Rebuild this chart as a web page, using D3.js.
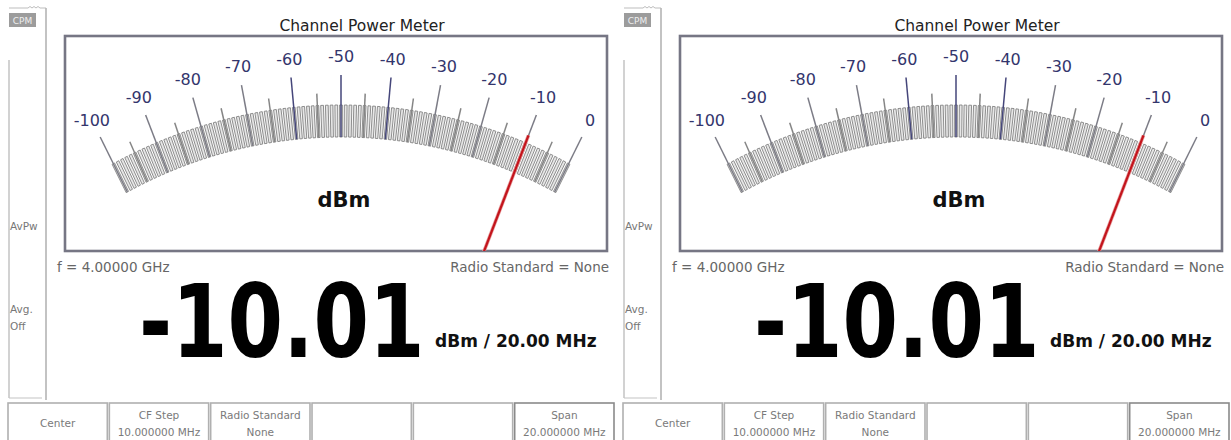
<!DOCTYPE html>
<html>
<head>
<meta charset="utf-8">
<script src="https://cdn.jsdelivr.net/npm/d3@7"></script>
<style>
body{margin:0;background:#fff;}
svg{display:block;}
</style>
</head>
<body>
<div id="cpm"></div>
<script>
// values
const scaleValues = [-100,-90,-80,-70,-60,-50,-40,-30,-20,-10,0];
const scaleLabels = ["-100","-90","-80","-70","-60","-50","-40","-30","-20","-10","0"];
const readingDbm = -10.01;
const readingText = "-10.01";
const unitText = "dBm / 20.00 MHz";
const meterUnit = "dBm";
const titleText = "Channel Power Meter";
const freqText = "f = 4.00000 GHz";
const standardText = "Radio Standard = None";
const sideTexts = ["AvPw", "Avg.", "Off"];
const modeText = "CPM";
const softKeys = [["Center"], ["CF Step","10.000000 MHz"], ["Radio Standard","None"], [], [], ["Span","20.000000 MHz"]];
const panelOffsets = [0, 615];

function chartConfiguration(){
    let width = 1231;
    let height = 440;
    let svg = d3.select("#cpm")
                .append("svg")
                .attr("width", width)
                .attr("height", height);
    // meter geometry (pivot is below the box, scale is a slightly squashed arc)
    let meter = { cx: 341, cy: 624, sx: 0.95, rIn: 487, rMinor: 519, rMid: 531, rMajor: 549, rLabel: 568 };
    let box = { x: 65, y: 36, w: 542, h: 215 };
    return { width, height, svg, meter, box };
}

function chartScales(){
    let angle = d3.scaleLinear()
                .domain([d3.min(scaleValues), d3.max(scaleValues)])
                .range([-27.5, 27.5]);
    return { angle };
}

function point(v, r, scales, m){
    let a = scales.angle(v) * Math.PI / 180;
    return [m.cx + m.sx * r * Math.sin(a), m.cy - r * Math.cos(a)];
}

function drawPanel(g, idx, scales, config){
    let { meter, box } = config;
    let clipId = "meterclip" + idx;

    // left side strip
    g.append("path")
        .attr("d", "M9,8 L28,8 q2,-3 4,0 q2,-3 4,0 q2,-3 4,0 L46,8")
        .attr("fill", "none").attr("stroke", "#bdbdbd").attr("stroke-width", 1);
    g.append("rect")
        .attr("x", 9).attr("y", 13).attr("width", 27).attr("height", 14)
        .attr("fill", "#9c9c9c");
    g.append("text")
        .attr("x", 22.5).attr("y", 24).attr("text-anchor", "middle")
        .style("font-family", "DejaVu Sans").style("font-size", "9px")
        .attr("fill", "#eeeeee").text(modeText);
    g.append("line").attr("x1", 9).attr("x2", 9).attr("y1", 60).attr("y2", 398)
        .attr("stroke", "#b4b4b4").attr("stroke-width", 1.2);
    g.append("line").attr("x1", 46).attr("x2", 46).attr("y1", 8).attr("y2", 400)
        .attr("stroke", "#b4b4b4").attr("stroke-width", 1.6);
    g.append("line").attr("x1", 9).attr("x2", 42).attr("y1", 398).attr("y2", 398)
        .attr("stroke", "#c4c4c4").attr("stroke-width", 1.2);
    g.selectAll("sidetext")
        .data(sideTexts)
        .enter()
        .append("text")
        .attr("x", 10)
        .attr("y", (d, i) => [230, 313, 330][i])
        .style("font-family", "DejaVu Sans").style("font-size", "10.5px")
        .attr("fill", "#777")
        .text(d => d);

    // title
    g.append("text")
        .attr("x", 362).attr("y", 31).attr("text-anchor", "middle")
        .style("font-family", "DejaVu Sans").style("font-size", "15.5px")
        .attr("fill", "#222").text(titleText);

    // meter box
    g.append("clipPath").attr("id", clipId)
        .append("rect")
        .attr("x", box.x).attr("y", box.y).attr("width", box.w).attr("height", box.h);
    g.append("rect")
        .attr("x", box.x).attr("y", box.y).attr("width", box.w).attr("height", box.h)
        .attr("fill", "#fff").attr("stroke", "#767684").attr("stroke-width", 2.6);

    let dial = g.append("g").attr("clip-path", "url(#" + clipId + ")");

    // 1 dB hatched band
    let minor = d3.range(-100, 1, 1);
    let half = 0.16;
    dial.selectAll("band")
        .data(minor)
        .enter()
        .append("path")
        .attr("d", function(v){
            let dv = half / (scales.angle(1) - scales.angle(0));
            let p = [point(v - dv, meter.rIn, scales, meter), point(v + dv, meter.rIn, scales, meter),
                     point(v + dv, meter.rMinor, scales, meter), point(v - dv, meter.rMinor, scales, meter)];
            return "M" + p.join("L") + "Z";
        })
        .attr("fill", "#e6e6e6")
        .attr("stroke", "#7c7c7c")
        .attr("stroke-width", 0.85);

    // 5 dB ticks
    let mid = d3.range(-95, 0, 10);
    dial.selectAll("mid")
        .data(mid)
        .enter()
        .append("line")
        .attr("x1", v => point(v, meter.rIn, scales, meter)[0])
        .attr("y1", v => point(v, meter.rIn, scales, meter)[1])
        .attr("x2", v => point(v, meter.rMid, scales, meter)[0])
        .attr("y2", v => point(v, meter.rMid, scales, meter)[1])
        .attr("stroke", "#858585").attr("stroke-width", 1.5);

    // 10 dB ticks
    dial.selectAll("major")
        .data(scaleValues)
        .enter()
        .append("line")
        .attr("x1", v => point(v, meter.rIn, scales, meter)[0])
        .attr("y1", v => point(v, meter.rIn, scales, meter)[1])
        .attr("x2", v => point(v, meter.rMajor, scales, meter)[0])
        .attr("y2", v => point(v, meter.rMajor, scales, meter)[1])
        .attr("stroke", v => (v >= -60 && v <= -40) ? "#45467a" : "#7c7c86")
        .attr("stroke-width", 1.5);

    dial.selectAll("labels")
        .data(scaleValues)
        .enter()
        .append("text")
        .attr("x", v => point(v, meter.rLabel, scales, meter)[0])
        .attr("y", v => point(v, meter.rLabel, scales, meter)[1] + 6)
        .attr("text-anchor", "middle")
        .style("font-family", "DejaVu Sans").style("font-size", "16px")
        .attr("fill", "#33356c")
        .text((v, i) => scaleLabels[i]);

    dial.append("text")
        .attr("x", 344).attr("y", 207).attr("text-anchor", "middle")
        .style("font-family", "DejaVu Sans").style("font-weight", "bold").style("font-size", "21px")
        .attr("fill", "#111").text(meterUnit);

    // needle
    let n0 = point(readingDbm, 360, scales, meter);
    let n1 = point(readingDbm, 527, scales, meter);
    dial.append("line")
        .attr("x1", n0[0]).attr("y1", n0[1]).attr("x2", n1[0]).attr("y2", n1[1])
        .attr("stroke", "#e8a0a0").attr("stroke-width", 3.6);
    dial.append("line")
        .attr("x1", n0[0]).attr("y1", n0[1]).attr("x2", n1[0]).attr("y2", n1[1])
        .attr("stroke", "#c3141c").attr("stroke-width", 2.2);

    // readouts
    g.append("text")
        .attr("x", 57).attr("y", 272)
        .style("font-family", "DejaVu Sans").style("font-size", "13.5px")
        .attr("fill", "#666").text(freqText);
    g.append("text")
        .attr("x", 609).attr("y", 272).attr("text-anchor", "end")
        .style("font-family", "DejaVu Sans").style("font-size", "13.5px")
        .attr("fill", "#666").text(standardText);
    g.append("text")
        .attr("transform", "translate(139,357) scale(0.79,1)")
        .style("font-family", "DejaVu Sans").style("font-weight", "bold").style("font-size", "101px")
        .attr("fill", "#000").text(readingText);
    g.append("text")
        .attr("x", 435).attr("y", 347)
        .style("font-family", "DejaVu Sans").style("font-weight", "bold").style("font-size", "17px")
        .attr("fill", "#111").text(unitText);

    // soft keys
    let keyX = d3.scaleBand().domain(d3.range(softKeys.length)).range([8, 614]).paddingInner(0.02);
    let keys = g.selectAll("softkey")
        .data(softKeys)
        .enter()
        .append("g")
        .attr("transform", (d, i) => "translate(" + keyX(i) + ",403)");
    keys.append("rect")
        .attr("width", keyX.bandwidth()).attr("height", 45)
        .attr("fill", "#fff").attr("stroke", (d, i) => i === 5 ? "#8a8a8a" : "#b0b0b0").attr("stroke-width", 1.6);
    keys.each(function(d){
        let k = d3.select(this);
        let ys = d.length === 1 ? [24] : [16, 33];
        d.forEach(function(t, j){
            k.append("text")
                .attr("x", keyX.bandwidth() / 2).attr("y", ys[j])
                .attr("text-anchor", "middle")
                .style("font-family", "DejaVu Sans").style("font-size", "10.5px")
                .attr("fill", "#7a7a7a").text(t);
        });
    });
}

function showChart(){
    let config = chartConfiguration();
    let scales = chartScales();
    panelOffsets.forEach(function(dx, i){
        let g = config.svg.append("g").attr("transform", "translate(" + dx + ",0)");
        drawPanel(g, i, scales, config);
    });
}

showChart();
</script>
</body>
</html>
